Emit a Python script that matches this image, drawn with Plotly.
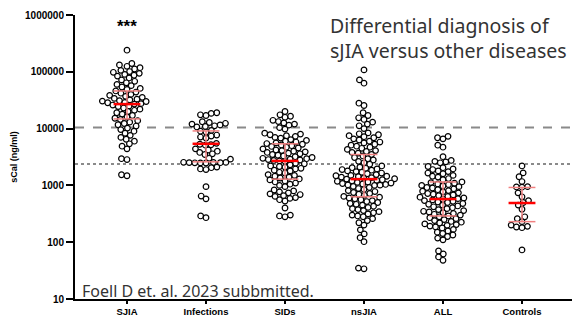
import numpy as np
import plotly.graph_objects as go

categories = ["SJIA", "Infections", "SIDs", "nsJIA", "ALL", "Controls"]

sjia = [240000,
        140000, 132000, 125000, 118000,
        112000, 106000, 101000, 98000, 94000, 90000, 87000, 84000,
        78000, 72000, 68000, 64000, 60000, 57000, 54000, 51000, 49000,
        46000, 44000, 42000, 40000, 38500, 37000, 35500,
        34000, 33000, 32000, 31000, 30500, 30000, 29000, 28500, 27500, 27000, 26000, 25000, 24500,
        23000, 22000, 21000, 20000, 19000, 18000, 17000, 16000, 15200, 14500,
        13800, 13000, 12300, 11700, 11100,
        10200, 9600, 9000, 8300, 7600, 7000, 6500,
        6000, 5400, 4900, 4400,
        2950, 2850,
        1540, 1480]

infections = [19000, 18500, 17500, 17000,
              13200, 12800, 12400, 12000, 11600, 11200, 10900, 10700,
              9300, 9000, 8700,
              7700, 7400, 7100, 6800,
              5500, 5300, 5200, 5100,
              4400, 4200, 4000, 3800, 3600, 3500,
              3000, 2900,
              2550, 2540, 2530, 2520, 2510, 2500, 2490, 2480,
              2100, 2050, 1950, 1900,
              950, 650, 580, 290, 270]

sids = [20000,
        17500, 16500, 15800,
        14000, 13300, 12600, 12000, 11500,
        10400, 9800,
        8300, 8000, 7800, 7500, 7300, 7000,
        6800, 6400, 6200, 6000, 5800, 5600, 5450, 5300, 5150, 5000, 4850, 4700,
        4550, 4400, 4200, 4100, 4000, 3900, 3800, 3700, 3600, 3500, 3400, 3300,
        3200, 3100, 3000, 2950, 2900, 2850, 2800, 2750, 2700, 2650,
        2450, 2400, 2300, 2200, 2150, 2100, 2000, 1950, 1850, 1800,
        1700, 1650, 1550, 1500, 1450, 1400,
        1350, 1300, 1250, 1200, 1150, 1100, 1050, 1000, 950,
        830, 800, 770, 740, 710, 690, 660, 640, 610, 590, 560, 530,
        400, 300, 290, 280]

nsjia = [108000,
         72000, 63000,
         28000, 25500,
         19000, 17000, 15500, 14500, 13000, 12000, 11200, 10000,
         8400, 8100, 7800, 7500, 7200, 6900, 6600, 6300, 6000, 5800,
         5600, 5300, 5100, 4900, 4700, 4500, 4300, 4100, 3950, 3800,
         3700, 3500, 3300, 3100, 2950, 2800, 2650, 2500, 2350, 2200,
         2100, 2050, 2000, 1950, 1900, 1850, 1800, 1750, 1700, 1650, 1600, 1550,
         1500, 1480, 1450, 1420, 1400, 1370, 1340, 1310, 1290, 1260, 1230,
         1200, 1180, 1150, 1130, 1100, 1080, 1060, 1040, 1020, 1010, 1000,
         960, 920, 880, 850, 810, 780, 750, 720, 700, 670, 640,
         620, 600, 580, 560, 540, 520, 500, 480, 465, 450, 430,
         410, 390, 375, 360, 345, 330, 315, 300, 290,
         280, 260, 240, 220, 200,
         165, 140, 120, 102,
         35, 34]

all_ = [7300, 6900, 6600,
        5100, 4700,
        3200,
        2750, 2650, 2600, 2500,
        2150, 2050, 1950, 1900, 1800, 1750, 1650, 1600, 1500, 1450, 1400, 1320, 1260,
        1150, 1120, 1090, 1060, 1030, 1000, 980, 950, 920, 900,
        870, 840, 810, 790, 770, 740, 720, 700, 680, 660,
        640, 620, 600, 585, 570, 555, 540, 525, 510, 500,
        480, 465, 450, 435, 420, 405, 390, 375, 360, 350, 340, 330, 320, 310, 300,
        290, 280, 270, 260, 250, 240, 232, 225, 218, 210, 204, 198, 192, 186,
        178, 168, 158, 150, 142, 134, 126, 118, 110,
        70, 62, 55, 48]

controls = [2200, 1660, 1420, 1170, 950, 940, 930, 740, 630, 540, 500,
            450, 380, 280, 260, 230, 200, 190, 185, 180, 73]

groups = [sjia, infections, sids, nsjia, all_, controls]

medians = [27000, 5400, 2700, 1290, 575, 490]
q1 = [14800, 2600, 1290, 630, 290, 230]
q3 = [46000, 9100, 5400, 3500, 1150, 920]

cutoff_high = 10500
cutoff_low = 2370

y_ticks = [10, 100, 1000, 10000, 100000, 1000000]
y_ticktext = ["10", "100", "1000", "10000", "100000", "1000000"]

# ---- layout constants ----
W, H = 572, 316
ML, MR, MT, MB = 75, 0, 15, 17
PLOT_H = H - MT - MB
PX_PER_DEC = PLOT_H / 5.0
PX_PER_CAT = 79.0
X0 = -(127 - ML) / PX_PER_CAT
X1 = X0 + (W - ML - MR) / PX_PER_CAT
D = 5.6  # marker spacing in px


def swarm(vals):
    ys = np.log10(np.array(vals, dtype=float)) * PX_PER_DEC
    order = np.argsort(ys)
    placed = []
    xs = np.zeros(len(vals))
    for i in order:
        y = ys[i]
        nb = [(px, py) for px, py in placed if abs(py - y) < D]
        cands = [0.0]
        for px, py in nb:
            dx = np.sqrt(D * D - (py - y) ** 2)
            cands += [px + dx, px - dx]
        cands.sort(key=lambda c: (abs(c), c))
        for c in cands:
            if all((c - px) ** 2 + (y - py) ** 2 >= D * D - 1e-6 for px, py in nb):
                xs[i] = c
                break
        placed.append((xs[i], y))
    return xs / PX_PER_CAT


def ypaper(px_from_top):
    return (H - MB - px_from_top) / PLOT_H


fig = go.Figure()

# reference lines
fig.add_trace(go.Scatter(x=[X0, X1], y=[cutoff_high, cutoff_high], mode="lines",
                         line=dict(color="#8a8a8a", width=2, dash="dash"), hoverinfo="skip"))
fig.add_trace(go.Scatter(x=[X0, X1], y=[cutoff_low, cutoff_low], mode="lines",
                         line=dict(color="#8a8a8a", width=2, dash="dot"), hoverinfo="skip"))

for gi, vals in enumerate(groups):
    off = swarm(vals)
    fig.add_trace(go.Scatter(
        x=gi + off, y=vals, mode="markers",
        marker=dict(symbol="circle", size=5.6, color="white",
                    line=dict(color="black", width=1.2)),
        hoverinfo="y"))

hw = 0.17
for gi in range(len(categories)):
    fig.add_trace(go.Scatter(x=[gi, gi], y=[q1[gi], q3[gi]], mode="lines",
                             line=dict(color="#f08080", width=1.5), hoverinfo="skip"))
    for v in (q1[gi], q3[gi]):
        fig.add_trace(go.Scatter(x=[gi - hw, gi + hw], y=[v, v], mode="lines",
                                 line=dict(color="#f08080", width=1.5), hoverinfo="skip"))
    fig.add_trace(go.Scatter(x=[gi - hw, gi + hw], y=[medians[gi], medians[gi]], mode="lines",
                             line=dict(color="#ff0000", width=2.5), hoverinfo="skip"))

fig.update_layout(
    width=W, height=H, showlegend=False,
    paper_bgcolor="white", plot_bgcolor="white",
    margin=dict(l=ML, r=MR, t=MT, b=MB),
    font=dict(family="Liberation Sans", color="black"),
)
fig.update_xaxes(
    range=[X0, X1], tickmode="array", tickvals=list(range(len(categories))),
    ticktext=categories, ticks="outside", ticklen=3, tickwidth=2, tickcolor="black",
    showline=True, linecolor="black", linewidth=2, showgrid=False, zeroline=False,
    automargin=False,
    tickfont=dict(family="Liberation Sans", size=9.5, weight="bold", color="black"),
)
fig.update_yaxes(
    type="log", range=[1, 6], tickmode="array", tickvals=y_ticks, ticktext=y_ticktext,
    ticks="outside", ticklen=7, tickwidth=2, tickcolor="black",
    showline=True, linecolor="black", linewidth=2, showgrid=False, zeroline=False,
    automargin=False,
    tickfont=dict(family="Liberation Sans", size=10, weight="bold", color="black"),
    title=dict(text="sCal (ng/ml)", standoff=6,
               font=dict(family="Liberation Sans", size=9, weight="bold", color="black")),
)

fig.add_annotation(x=0, y=np.log10(620000), xref="x", yref="y", text="***",
                   showarrow=False, font=dict(family="Liberation Sans", size=17, weight="bold"))
title_x = (328 - ML) / (W - ML - MR)
fig.add_annotation(x=title_x, y=ypaper(25.5), xref="paper", yref="paper", xanchor="left",
                   yanchor="middle", showarrow=False, text="Differential diagnosis of",
                   font=dict(family="Noto Sans", size=19.5, color="#333333"))
fig.add_annotation(x=title_x, y=ypaper(50.5), xref="paper", yref="paper", xanchor="left",
                   yanchor="middle", showarrow=False, text="sJIA versus other diseases",
                   font=dict(family="Noto Sans", size=19.5, color="#333333"))
fig.add_annotation(x=(80 - ML) / (W - ML - MR), y=ypaper(291), xref="paper", yref="paper",
                   xanchor="left", yanchor="middle",
                   showarrow=False, text="Foell D et. al. 2023 subbmitted.",
                   font=dict(family="Noto Sans", size=16, color="#333333"))

fig.write_html("out.html", config={"displayModeBar": False},
               post_script="document.body.style.margin='0';document.body.style.overflow='hidden';")
